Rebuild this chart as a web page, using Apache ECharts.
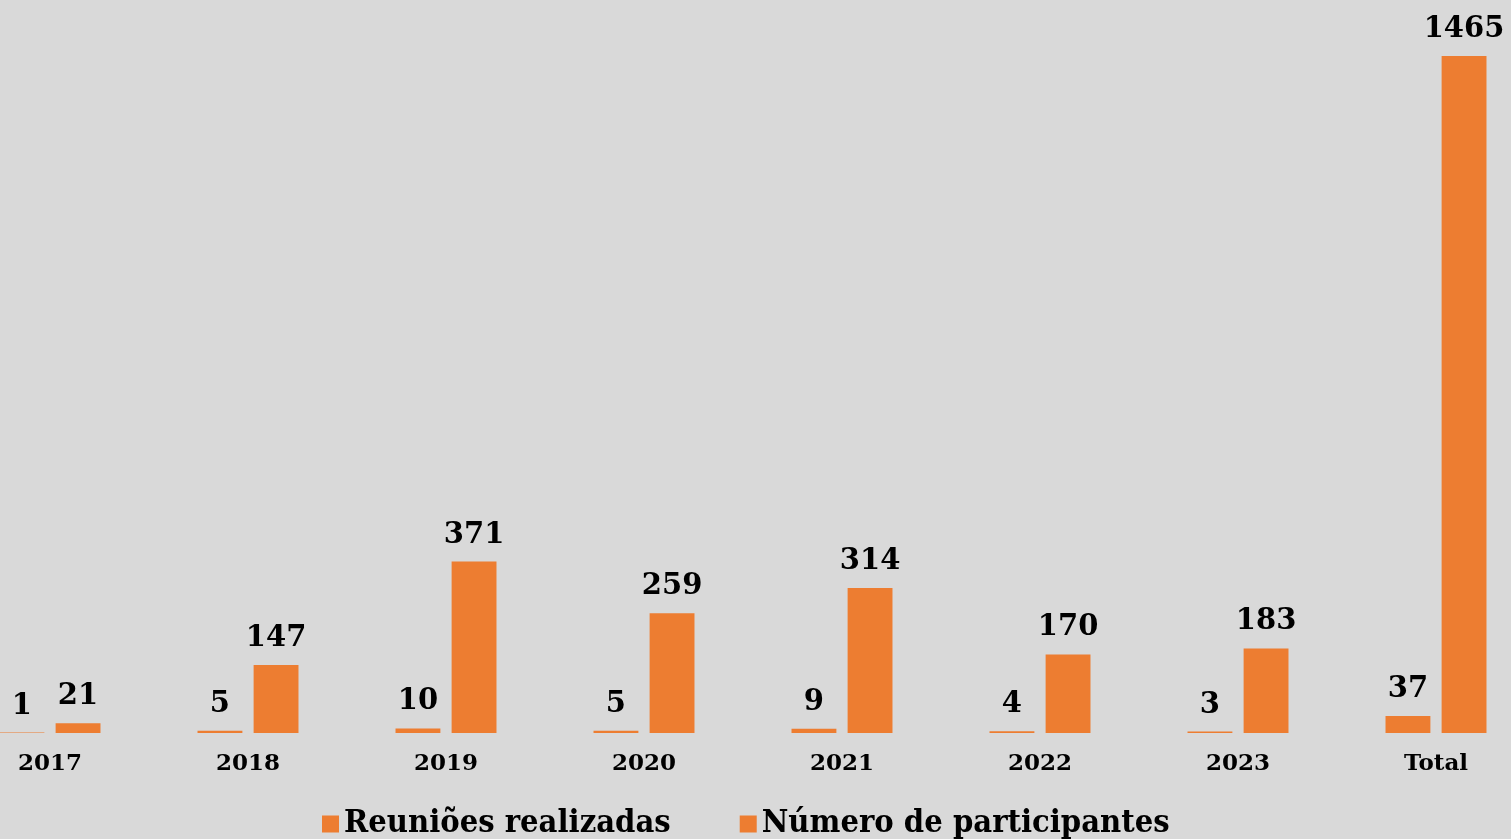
<!DOCTYPE html>
<html>
<head>
<meta charset="utf-8">
<script src="https://cdn.jsdelivr.net/npm/echarts@6/dist/echarts.min.js"></script>
<style>
  html, body { margin: 0; padding: 0; background: #d9d9d9; overflow: hidden; }
  /* o gráfico original está cortado à esquerda: 49px fora da tela */
  #chart { width: 1584px; height: 839px; margin-left: -49px; }
</style>
</head>
<body>
<div id="chart"></div>
<script>
// categorias e valores
const anos = ['2017', '2018', '2019', '2020', '2021', '2022', '2023', 'Total'];
const reunioes = [1, 5, 10, 5, 9, 4, 3, 37];
const participantes = [21, 147, 371, 259, 314, 170, 183, 1465];

const laranja = '#ed7d31';
const fonte = '"DejaVu Serif", serif';

let chart = echarts.init(document.getElementById('chart'));
let labelCfg = {
    show: true,
    position: 'top',
    distance: 12,
    color: '#000',
    fontFamily: fonte,
    fontWeight: 'bold',
    fontSize: 29
};
option = {
    backgroundColor: '#d9d9d9',
    animation: false,
    grid: { left: 0, right: 0, top: 56, bottom: 106, containLabel: false },
    legend: {
        data: ['Reuniões realizadas', 'Número de participantes'],
        left: 366,
        top: 803,
        itemWidth: 17,
        itemHeight: 17,
        itemGap: 69,
        itemTextGap: 6,
        itemStyle: { color: laranja },
        icon: 'rect',
        textStyle: {
            color: '#000',
            fontFamily: '"DejaVu Serif Condensed", "DejaVu Serif", serif',
            fontWeight: 'bold',
            fontSize: 32.4
        }
    },
    xAxis: {
        type: 'category',
        data: anos,
        axisLine: { show: false },
        axisTick: { show: false },
        axisLabel: {
            color: '#000',
            fontFamily: fonte,
            fontWeight: 'bold',
            fontSize: 23,
            margin: 20
        }
    },
    yAxis: {
        type: 'value',
        min: 0,
        max: 1465,
        show: false,
        splitLine: { show: false }
    },
    series: [
        {
            name: 'Reuniões realizadas',
            type: 'bar',
            data: reunioes,
            barGap: '25%',
            barCategoryGap: '49%',
            itemStyle: { color: laranja },
            label: labelCfg
        },
        {
            name: 'Número de participantes',
            type: 'bar',
            data: participantes,
            itemStyle: { color: laranja },
            label: labelCfg
        }
    ]
};
chart.setOption(option);
</script>
</body>
</html>
